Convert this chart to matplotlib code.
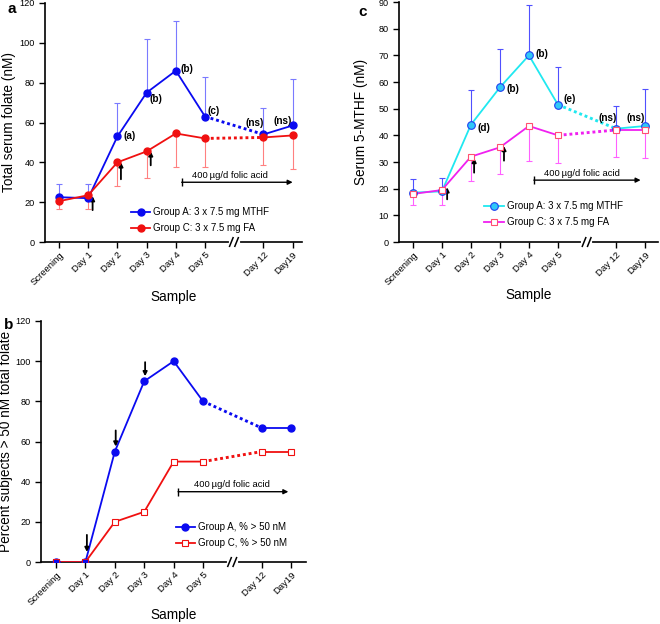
import matplotlib
matplotlib.use("Agg")
import matplotlib.pyplot as plt
import numpy as np

plt.rcParams['font.family'] = ['Liberation Sans', 'DejaVu Sans']

samples = ["Screening", "Day 1", "Day 2", "Day 3", "Day 4", "Day 5", "Day 12", "Day19"]
xpos = [0, 1, 2, 3, 4, 5, 7, 8]

# panel a: total serum folate (nM)
a_grpA = [22.5, 22, 53, 75, 86, 63, 54, 58.5]
a_grpA_hi = [29, 29, 70, 102, 111, 83, 67.5, 82]
a_grpC = [20.5, 23.5, 40, 45.5, 54.5, 52, 52.5, 53.5]
a_grpC_lo = [16.5, 16.5, 28, 32, 37.5, 37.5, 38.5, 36.5]
a_labels = ["", "", "(a)", "(b)", "(b)", "(c)", "(ns)", "(ns)"]

# panel c: serum 5-MTHF (nM)
c_grpA = [18.5, 19, 44, 58, 70, 51.5, 42.5, 43.5]
c_grpA_hi = [23.5, 24, 57, 72.5, 89, 65.5, 51, 57.5]
c_grpC = [18, 19.5, 32, 35.5, 43.5, 40, 42, 42]
c_grpC_lo = [14, 14, 23, 25.5, 30.5, 29.5, 32, 31.5]
c_labels = ["", "", "(d)", "(b)", "(b)", "(e)", "(ns)", "(ns)"]

# panel b: percent subjects > 50 nM
b_grpA = [0, 0, 55, 90, 100, 80, 66.7, 66.7]
b_grpC = [0, 0, 20, 25, 50, 50, 55, 55]

W, H = 660, 624


def px_axes(fig, left, right, top, bottom):
    return fig.add_axes([left / W, 1 - bottom / H, (right - left) / W, (bottom - top) / H])


def style_axes(ax, xlim, ylim, yticks, ylabel, ylab_x, xlab_y):
    ax.set_xlim(*xlim)
    ax.set_ylim(*ylim)
    for s in ("top", "right"):
        ax.spines[s].set_visible(False)
    for s in ("left", "bottom"):
        ax.spines[s].set_linewidth(1.2)
    ax.set_yticks(yticks)
    ax.set_xticks(xpos)
    ax.set_xticklabels(samples, rotation=45, ha="right", rotation_mode="anchor", fontsize=6.8)
    ax.tick_params(axis="both", direction="out", length=4, width=1.0, labelsize=6.6)
    ax.tick_params(axis="x", pad=2, labelsize=6.8)
    ax.set_ylabel(ylabel, fontsize=9.8, va="center")
    ax.set_xlabel("Sample", fontsize=9.8, va="center")
    ax.yaxis.set_label_coords(ylab_x, 0.5)
    ax.xaxis.set_label_coords(0.5, xlab_y)
    # axis break
    tr = ax.get_xaxis_transform()
    ax.plot([5.88, 6.12], [0, 0], color="white", lw=3, transform=tr, clip_on=False, zorder=5)
    for xb in (5.9, 6.08):
        ax.plot([xb - 0.06, xb + 0.06], [-0.018, 0.018], color="k", lw=1.1,
                transform=tr, clip_on=False, zorder=6)


def broken_line(ax, y, color, lw=1.3, **mk):
    x = np.array(xpos)
    y = np.array(y)
    ax.plot(x[:6], y[:6], color=color, lw=lw, zorder=3)
    ax.plot(x[5:7], y[5:7], color=color, lw=lw * 1.6, ls=(0, (1, 1)), zorder=3)
    ax.plot(x[6:], y[6:], color=color, lw=lw, zorder=3)
    ax.plot(x, y, ls="none", zorder=4, **mk)


def folic(ax, x0, x1, y, ty, tx):
    ax.annotate("", xy=(x1, y), xytext=(x0, y),
                arrowprops=dict(arrowstyle="-|>", lw=1.0, color="k",
                                mutation_scale=7, shrinkA=0, shrinkB=0))
    ax.plot([x0], [y], marker="|", ms=6, mew=1.0, color="k")
    ax.text(tx, ty, "400\u2009\u00b5g/d folic acid", ha="center", va="center", fontsize=6.8)


def small_arrow(ax, x, y0, y1):
    ax.annotate("", xy=(x, y1), xytext=(x, y0),
                arrowprops=dict(arrowstyle="-|>", lw=1.3, color="k",
                                mutation_scale=6, shrinkA=0, shrinkB=0))


def legend(ax, handles, labels, x, y):
    ax.legend(handles, labels, loc="lower left", bbox_to_anchor=(x, y), frameon=False,
              fontsize=7, handlelength=2.0, handletextpad=0.3, labelspacing=0.65)


fig = plt.figure(figsize=(W / 100, H / 100), dpi=100)

# ---------------- panel a ----------------
ax = px_axes(fig, 45, 302, 3, 242)
style_axes(ax, (-0.48, 8.32), (0, 120), range(0, 121, 20), "Total serum folate (nM)",
           -36 / 257, -55 / 239)
ax.errorbar(xpos, a_grpA, yerr=[np.zeros(8), np.array(a_grpA_hi) - np.array(a_grpA)],
            fmt="none", ecolor="#7a7aff", elinewidth=0.8, capsize=2, capthick=0.8, zorder=2)
ax.errorbar(xpos, a_grpC, yerr=[np.array(a_grpC) - np.array(a_grpC_lo), np.zeros(8)],
            fmt="none", ecolor="#ff8080", elinewidth=0.8, capsize=2, capthick=0.8, zorder=2)
broken_line(ax, a_grpA, "#0a0af0", marker="o", ms=5, mfc="#0a0af0", mec="#0a0af0")
broken_line(ax, a_grpC, "#f01010", marker="o", ms=5, mfc="#f01010", mec="#f01010")
lab_pos = {2: (2.22, 53), 3: (3.1, 72), 4: (4.15, 87), 5: (5.07, 66), 6: (6.7, 60), 7: (7.67, 61)}
for i, (tx, ty) in lab_pos.items():
    ha = "center" if i >= 6 else "left"
    ax.text(tx, ty, a_labels[i], ha=ha, va="center", fontsize=7.2, fontweight="bold")
small_arrow(ax, 1.15, 16, 23)
small_arrow(ax, 2.12, 31.5, 40)
small_arrow(ax, 3.14, 38.5, 45.5)
folic(ax, 4.2, 8.0, 30, 33.3, 5.86)
h1, = ax.plot([], [], color="#0a0af0", lw=1.3, marker="o", ms=5)
h2, = ax.plot([], [], color="#f01010", lw=1.3, marker="o", ms=5)
legend(ax, [h1, h2], ["Group A: 3 x 7.5 mg MTHF", "Group C: 3 x 7.5 mg FA"], 0.3, 0.0)
fig.text(7 / W, 1 - 9 / H, "a", fontsize=11, fontweight="bold", va="center")

# ---------------- panel c ----------------
ax = px_axes(fig, 399, 658, 2, 242)
style_axes(ax, (-0.48, 8.45), (0, 90), range(0, 91, 10), "Serum 5-MTHF (nM)",
           -38 / 259, -53 / 240)
ax.errorbar(xpos, c_grpA, yerr=[np.zeros(8), np.array(c_grpA_hi) - np.array(c_grpA)],
            fmt="none", ecolor="#5050ff", elinewidth=0.8, capsize=2, capthick=0.8, zorder=2)
ax.errorbar(xpos, c_grpC, yerr=[np.array(c_grpC) - np.array(c_grpC_lo), np.zeros(8)],
            fmt="none", ecolor="#ff60ff", elinewidth=0.8, capsize=2, capthick=0.8, zorder=2)
broken_line(ax, c_grpA, "#20e8f0", marker="o", ms=5.5, mfc="#30c8f8", mec="#2040f0", mew=0.8)
broken_line(ax, c_grpC, "#f020f0", marker="s", ms=5, mfc="white", mec="#ff5070", mew=0.8)
lab_pos = {2: (2.22, 42.6), 3: (3.23, 57.3), 4: (4.23, 70.4), 5: (5.18, 53.5), 6: (6.7, 46.6), 7: (7.69, 46.6)}
for i, (tx, ty) in lab_pos.items():
    ha = "center" if i >= 6 else "left"
    ax.text(tx, ty, c_labels[i], ha=ha, va="center", fontsize=7.2, fontweight="bold")
small_arrow(ax, 1.18, 16, 20.5)
small_arrow(ax, 2.11, 26, 31.5)
small_arrow(ax, 3.14, 30.5, 36)
folic(ax, 4.17, 7.85, 23.2, 25.8, 5.84)
h1, = ax.plot([], [], color="#20e8f0", lw=1.3, marker="o", ms=5.5, mfc="#30c8f8", mec="#2040f0", mew=0.8)
h2, = ax.plot([], [], color="#f020f0", lw=1.3, marker="s", ms=5, mfc="white", mec="#ff5070", mew=0.8)
legend(ax, [h1, h2], ["Group A: 3 x 7.5 mg MTHF", "Group C: 3 x 7.5 mg FA"], 0.295, 0.025)
fig.text(358 / W, 1 - 12 / H, "c", fontsize=11, fontweight="bold", va="center")

# ---------------- panel b ----------------
ax = px_axes(fig, 41, 306, 321, 562)
style_axes(ax, (-0.51, 8.5), (0, 120), range(0, 121, 20), "Percent subjects > 50 nM total folate",
           -35 / 265, -53 / 241)
broken_line(ax, b_grpA, "#0a0af0", marker="o", ms=5, mfc="#0a0af0", mec="#0a0af0")
broken_line(ax, b_grpC, "#f01010", marker="s", ms=5, mfc="white", mec="#f01010", mew=0.8)
ax.plot(xpos[:2], b_grpA[:2], ls="none", marker="s", ms=5, mfc="#0a0af0", mec="#f01010",
        mew=0.6, zorder=5)
ax.annotate("", xy=(1.05, 5), xytext=(1.05, 13.5),
            arrowprops=dict(arrowstyle="-|>", lw=1.3, color="k", mutation_scale=6, shrinkA=0, shrinkB=0))
ax.annotate("", xy=(2.03, 57.5), xytext=(2.03, 65.5),
            arrowprops=dict(arrowstyle="-|>", lw=1.3, color="k", mutation_scale=6, shrinkA=0, shrinkB=0))
ax.annotate("", xy=(3.03, 92.5), xytext=(3.03, 99.5),
            arrowprops=dict(arrowstyle="-|>", lw=1.3, color="k", mutation_scale=6, shrinkA=0, shrinkB=0))
folic(ax, 4.15, 7.9, 35, 38.8, 5.98)
h1, = ax.plot([], [], color="#0a0af0", lw=1.3, marker="o", ms=5)
h2, = ax.plot([], [], color="#f01010", lw=1.3, marker="s", ms=5, mfc="white", mec="#f01010", mew=0.8)
legend(ax, [h1, h2], ["Group A, % > 50 nM", "Group C, % > 50 nM"], 0.475, 0.02)
fig.text(4 / W, 1 - 325 / H, "b", fontsize=11, fontweight="bold", va="center")

fig.savefig("out.png", dpi=100)
